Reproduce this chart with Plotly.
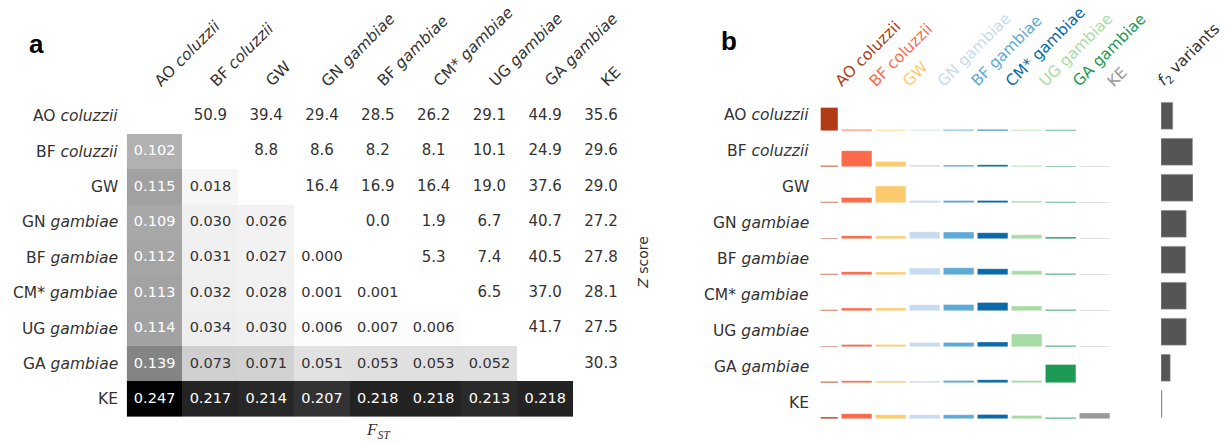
import plotly.graph_objects as go

# ---- population labels -------------------------------------------------
pops_plain = ["AO coluzzii", "BF coluzzii", "GW", "GN gambiae", "BF gambiae",
              "CM* gambiae", "UG gambiae", "GA gambiae", "KE"]
pops_html = ["AO <i>coluzzii</i>", "BF <i>coluzzii</i>", "GW", "GN <i>gambiae</i>",
             "BF <i>gambiae</i>", "CM* <i>gambiae</i>", "UG <i>gambiae</i>",
             "GA <i>gambiae</i>", "KE"]
pop_colors = ["#b23a17", "#fb6a4a", "#fdcb6e", "#c6dbef", "#5eaad6",
              "#0b69a9", "#a8dca4", "#1d9a55", "#999999"]

# ---- pairwise Fst (lower triangle, row by row) -------------------------
fst_rows = [
    [],
    [0.102],
    [0.115, 0.018],
    [0.109, 0.030, 0.026],
    [0.112, 0.031, 0.027, 0.000],
    [0.113, 0.032, 0.028, 0.001, 0.001],
    [0.114, 0.034, 0.030, 0.006, 0.007, 0.006],
    [0.139, 0.073, 0.071, 0.051, 0.053, 0.053, 0.052],
    [0.247, 0.217, 0.214, 0.207, 0.218, 0.218, 0.213, 0.218],
]

# ---- Z scores (upper triangle, row by row) -----------------------------
z_rows = [
    [50.9, 39.4, 29.4, 28.5, 26.2, 29.1, 44.9, 35.6],
    [8.8, 8.6, 8.2, 8.1, 10.1, 24.9, 29.6],
    [16.4, 16.9, 16.4, 19.0, 37.6, 29.0],
    [0.0, 1.9, 6.7, 40.7, 27.2],
    [5.3, 7.4, 40.5, 27.8],
    [6.5, 37.0, 28.1],
    [41.7, 27.5],
    [30.3],
    [],
]

# ---- f2 doubleton sharing (row population -> column population) --------
f2_share = [
    [23.3, 1.3, 1.0, 1.0, 1.3, 1.3, 1.0, 1.0, 0.0],
    [1.3, 16.0, 5.3, 1.7, 1.7, 2.0, 1.3, 0.7, 0.5],
    [1.0, 5.3, 16.7, 2.3, 2.3, 2.3, 1.7, 1.0, 0.5],
    [0.7, 3.0, 2.7, 7.0, 6.7, 6.0, 4.0, 1.7, 0.5],
    [1.0, 3.0, 2.7, 6.7, 7.0, 6.0, 4.0, 1.3, 0.5],
    [1.0, 2.7, 2.7, 6.0, 6.3, 8.3, 4.7, 1.3, 0.5],
    [0.7, 2.3, 2.3, 4.3, 4.3, 4.7, 12.7, 1.3, 0.5],
    [1.3, 2.0, 1.7, 1.7, 2.3, 3.0, 2.3, 18.3, 0.0],
    [1.7, 5.0, 4.0, 4.0, 4.0, 4.3, 3.3, 1.3, 5.7],
]

# ---- number of f2 variants per population (relative) -------------------
f2_variants = [0.37, 0.99, 1.00, 0.79, 0.77, 0.79, 0.79, 0.29, 0.03]

n = len(pops_plain)
W, H = 1231, 444
FONT = "DejaVu Sans"
TXT = "#333333"


def xp(px):
    return px / W


def yp(py):
    return 1 - py / H


# matplotlib-like Greys scale
greys = [[0.0, "#ffffff"], [0.125, "#f0f0f0"], [0.25, "#d9d9d9"],
         [0.375, "#bdbdbd"], [0.5, "#969696"], [0.625, "#737373"],
         [0.75, "#525252"], [0.875, "#252525"], [1.0, "#000000"]]

fst_grid = [[None] * n for _ in range(n)]
for i, row in enumerate(fst_rows):
    for j, v in enumerate(row):
        fst_grid[i][j] = v

fig = go.Figure()

# ---- panel a: heatmap ---------------------------------------------------
fig.add_trace(go.Heatmap(z=fst_grid, x=list(range(n)), y=list(range(n)),
                         colorscale=greys, zmin=0, zmax=0.247, showscale=False,
                         hoverinfo="skip", xaxis="x", yaxis="y"))

dark_x, dark_y, dark_t, light_x, light_y, light_t = [], [], [], [], [], []
for i, row in enumerate(fst_rows):
    for j, v in enumerate(row):
        if v > 0.09:
            dark_x.append(j); dark_y.append(i); dark_t.append(f"{v:.3f}")
        else:
            light_x.append(j); light_y.append(i); light_t.append(f"{v:.3f}")
fig.add_trace(go.Scatter(x=dark_x, y=dark_y, text=dark_t, mode="text",
                         textfont=dict(family=FONT, size=14.5, color="white"),
                         hoverinfo="skip", xaxis="x", yaxis="y"))
fig.add_trace(go.Scatter(x=light_x, y=light_y, text=light_t, mode="text",
                         textfont=dict(family=FONT, size=14.5, color=TXT),
                         hoverinfo="skip", xaxis="x", yaxis="y"))

zx, zy, zt = [], [], []
for i, row in enumerate(z_rows):
    for k, v in enumerate(row):
        zx.append(i + 1 + k); zy.append(i); zt.append(f"{v:.1f}")
fig.add_trace(go.Scatter(x=zx, y=zy, text=zt, mode="text",
                         textfont=dict(family=FONT, size=15, color=TXT),
                         hoverinfo="skip", xaxis="x", yaxis="y"))

# ---- panel b: doubleton sharing bars -----------------------------------
ROW_STEP = 36.0
bases = [-ROW_STEP * i for i in range(n)]
for k in range(n):
    fig.add_trace(go.Bar(x=[k] * n, y=[f2_share[i][k] for i in range(n)],
                         base=bases, width=0.9,
                         marker=dict(color=pop_colors[k],
                                     line=dict(width=0.6, color="rgba(255,255,255,0.6)")),
                         hoverinfo="skip", xaxis="x2", yaxis="y2"))

# ---- panel b: f2 variant totals -----------------------------------------
fig.add_trace(go.Bar(x=f2_variants, y=list(range(n)), orientation="h", width=0.75,
                     marker=dict(color="#555555", line=dict(width=0.6, color="#bbbbbb")),
                     hoverinfo="skip", xaxis="x3", yaxis="y3"))

# matrix geometry (px)
MX0, MX1 = 126.7, 628.9
MY0, MY1 = 98.6, 417.0
cw = (MX1 - MX0) / n
rh = (MY1 - MY0) / n

# bars geometry (px)
BX0 = 820.7
colpx = 34.0
BX1 = BX0 + (8.5 + 0.057) * colpx
BY0, BY1 = 95.0, 425.0
base0 = 130.7

ax_off = dict(showgrid=False, zeroline=False, showticklabels=False, ticks="",
              showline=False, fixedrange=True)

fig.update_layout(
    width=W, height=H, margin=dict(l=0, r=0, t=0, b=0),
    paper_bgcolor="white", plot_bgcolor="rgba(0,0,0,0)",
    showlegend=False, barmode="overlay",
    xaxis=dict(domain=[xp(MX0), xp(MX1)], range=[-0.5, n - 0.5], **ax_off),
    yaxis=dict(domain=[yp(MY1), yp(MY0)], range=[n - 0.5, -0.5], **ax_off),
    xaxis2=dict(domain=[xp(BX0), xp(BX1)], range=[-0.057, 8.5], anchor="y2", **ax_off),
    yaxis2=dict(domain=[yp(BY1), yp(BY0)],
                range=[-(BY1 - base0), base0 - BY0], anchor="x2", **ax_off),
    xaxis3=dict(domain=[xp(1161), xp(1193)], range=[0, 1.0], anchor="y3", **ax_off),
    yaxis3=dict(domain=[yp(115.8 + 8.5 * ROW_STEP), yp(115.8 - 0.5 * ROW_STEP)],
                range=[n - 0.5, -0.5], anchor="x3", **ax_off),
)

ann = []
FS = 15.5
HOFF = 0.707 * FS * 1.25 - 7

for i in range(n):
    # panel a row labels
    ann.append(dict(x=xp(120), y=yp(MY0 + rh * (i + 0.5)), xref="paper", yref="paper",
                    text=pops_html[i], showarrow=False, xanchor="right", yanchor="middle",
                    font=dict(family=FONT, size=FS, color=TXT)))
    # panel a column labels
    cx = MX0 + cw * (i + 0.5)
    ann.append(dict(x=xp(cx - HOFF), y=yp(93), xref="paper", yref="paper",
                    text=pops_html[i], showarrow=False, xanchor="left", yanchor="bottom",
                    textangle=-45, font=dict(family=FONT, size=FS, color=TXT)))
    # panel b row labels
    ann.append(dict(x=xp(811), y=yp(base0 + ROW_STEP * i - 15.7), xref="paper", yref="paper",
                    text=pops_html[i], showarrow=False, xanchor="right", yanchor="middle",
                    font=dict(family=FONT, size=FS, color=TXT)))
    # panel b column labels
    bx = BX0 + (0.057 + i) * colpx + 13
    ann.append(dict(x=xp(bx - HOFF), y=yp(93), xref="paper", yref="paper",
                    text=pops_plain[i], showarrow=False, xanchor="left", yanchor="bottom",
                    textangle=-45, font=dict(family=FONT, size=FS, color=pop_colors[i])))

ann.append(dict(x=xp(1158 - HOFF), y=yp(93), xref="paper", yref="paper",
                text="<i>f</i><sub>2</sub> variants", showarrow=False, xanchor="left",
                yanchor="bottom", textangle=-45, font=dict(family=FONT, size=FS, color=TXT)))
ann.append(dict(x=xp(643), y=yp((MY0 + MY1) / 2 + 5), xref="paper", yref="paper",
                text="<i>Z</i> score", showarrow=False, textangle=-90,
                xanchor="center", yanchor="middle",
                font=dict(family=FONT, size=14, color=TXT)))
ann.append(dict(x=xp(378), y=yp(418), xref="paper", yref="paper",
                text="<i>F</i><sub><i>ST</i></sub>", showarrow=False,
                xanchor="center", yanchor="top",
                font=dict(family="Liberation Serif", size=17, color=TXT)))
ann.append(dict(x=xp(36.5), y=yp(44), xref="paper", yref="paper", text="<b>a</b>",
                showarrow=False, xanchor="center", yanchor="middle",
                font=dict(family="Liberation Sans", size=26, color="black")))
ann.append(dict(x=xp(729), y=yp(41), xref="paper", yref="paper", text="<b>b</b>",
                showarrow=False, xanchor="center", yanchor="middle",
                font=dict(family="Liberation Sans", size=26, color="black")))

fig.update_layout(annotations=ann)
fig.write_html("out.html")
